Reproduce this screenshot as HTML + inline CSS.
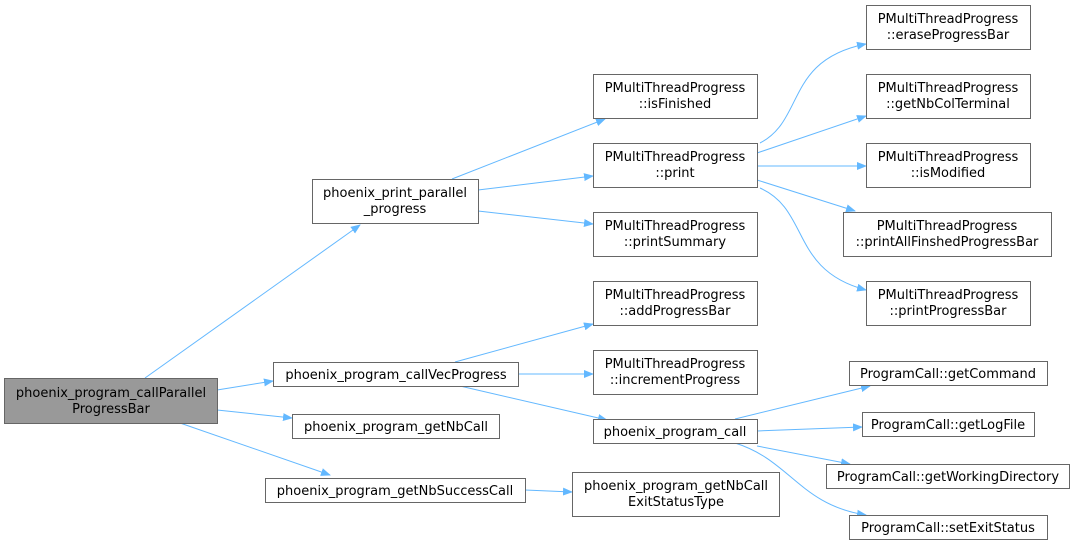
<!DOCTYPE html>
<html><head><meta charset="utf-8"><style>
html,body{margin:0;padding:0;background:#fff;}
svg{display:block}
text{font-family:"DejaVu Sans","Liberation Sans",sans-serif;font-size:13px;fill:#000;}
.n{fill:#fff;stroke:#666;stroke-width:1}
.e{fill:none;stroke:#63b8ff;stroke-width:1}
</style></head><body>
<svg width="1076" height="548" viewBox="0 0 1076 548" xmlns="http://www.w3.org/2000/svg">
<defs><marker id="a" markerWidth="10" markerHeight="8" refX="9" refY="4" orient="auto" markerUnits="userSpaceOnUse"><path d="M0,0 L10,4 L0,8 z" fill="#63b8ff"/></marker></defs>
<g class="edges">
<path class="e" marker-end="url(#a)" d="M145,378 L360,225"/>
<path class="e" marker-end="url(#a)" d="M217,390 L273,381"/>
<path class="e" marker-end="url(#a)" d="M217,410 L292,418"/>
<path class="e" marker-end="url(#a)" d="M180,423 L330,475"/>
<path class="e" marker-end="url(#a)" d="M452,179 L605,119"/>
<path class="e" marker-end="url(#a)" d="M478,190 L593,176"/>
<path class="e" marker-end="url(#a)" d="M478,211 L593,224"/>
<path class="e" marker-end="url(#a)" d="M455,362 L593,324"/>
<path class="e" marker-end="url(#a)" d="M518,374 L593,374"/>
<path class="e" marker-end="url(#a)" d="M460,386 L607,420"/>
<path class="e" marker-end="url(#a)" d="M525,490 L572,492"/>
<path class="e" marker-end="url(#a)" d="M760,143 C805,120 785,60 866,44"/>
<path class="e" marker-end="url(#a)" d="M757,153 L866,116"/>
<path class="e" marker-end="url(#a)" d="M757,166 L866,166"/>
<path class="e" marker-end="url(#a)" d="M757,180 L855,211"/>
<path class="e" marker-end="url(#a)" d="M760,188 C810,210 790,270 866,290"/>
<path class="e" marker-end="url(#a)" d="M735,419 L870,386"/>
<path class="e" marker-end="url(#a)" d="M757,431 L862,427"/>
<path class="e" marker-end="url(#a)" d="M757,446 L850,464"/>
<path class="e" marker-end="url(#a)" d="M735,443 C790,460 800,505 866,515"/>
</g>
<rect x="4.5" y="378.5" width="213" height="45" fill="#999" stroke="#666"/>
<text x="111" y="397" text-anchor="middle">phoenix_program_callParallel</text>
<text x="111" y="413" text-anchor="middle">ProgressBar</text>

<rect class="n" x="312.5" y="179.5" width="166" height="44"/>
<text x="395" y="197" text-anchor="middle">phoenix_print_parallel</text>
<text x="395" y="213" text-anchor="middle">_progress</text>

<rect class="n" x="273.5" y="362.5" width="245" height="24"/>
<text x="396" y="379" text-anchor="middle">phoenix_program_callVecProgress</text>
<rect class="n" x="292.5" y="414.5" width="207" height="24"/>
<text x="396" y="431" text-anchor="middle">phoenix_program_getNbCall</text>
<rect class="n" x="265.5" y="478.5" width="260" height="24"/>
<text x="395" y="495" text-anchor="middle">phoenix_program_getNbSuccessCall</text>

<g text-anchor="middle">
<rect class="n" x="593.5" y="74.5" width="164" height="44"/><text x="675" y="92">PMultiThreadProgress</text><text x="675" y="108">::isFinished</text>
<rect class="n" x="593.5" y="143.5" width="164" height="44"/><text x="675" y="161">PMultiThreadProgress</text><text x="675" y="177">::print</text>
<rect class="n" x="593.5" y="212.5" width="164" height="44"/><text x="675" y="230">PMultiThreadProgress</text><text x="675" y="246">::printSummary</text>
<rect class="n" x="593.5" y="281.5" width="164" height="44"/><text x="675" y="299">PMultiThreadProgress</text><text x="675" y="315">::addProgressBar</text>
<rect class="n" x="593.5" y="350.5" width="164" height="44"/><text x="675" y="368">PMultiThreadProgress</text><text x="675" y="384">::incrementProgress</text>
<rect class="n" x="593.5" y="419.5" width="164" height="24"/><text x="675" y="436">phoenix_program_call</text>
<rect class="n" x="572.5" y="472.5" width="207" height="44"/><text x="676" y="490">phoenix_program_getNbCall</text><text x="676" y="506">ExitStatusType</text>

<rect class="n" x="866.5" y="5.5" width="164" height="44"/><text x="948" y="23">PMultiThreadProgress</text><text x="948" y="39">::eraseProgressBar</text>
<rect class="n" x="866.5" y="74.5" width="164" height="44"/><text x="948" y="92">PMultiThreadProgress</text><text x="948" y="108">::getNbColTerminal</text>
<rect class="n" x="866.5" y="143.5" width="164" height="44"/><text x="948" y="161">PMultiThreadProgress</text><text x="948" y="177">::isModified</text>
<rect class="n" x="843.5" y="212.5" width="208" height="44"/><text x="947" y="230">PMultiThreadProgress</text><text x="947" y="246">::printAllFinshedProgressBar</text>
<rect class="n" x="866.5" y="281.5" width="164" height="44"/><text x="948" y="299">PMultiThreadProgress</text><text x="948" y="315">::printProgressBar</text>
<rect class="n" x="849.5" y="361.5" width="198" height="24"/><text x="948" y="378">ProgramCall::getCommand</text>
<rect class="n" x="862.5" y="412.5" width="172" height="24"/><text x="948" y="429">ProgramCall::getLogFile</text>
<rect class="n" x="826.5" y="464.5" width="243" height="24"/><text x="948" y="481">ProgramCall::getWorkingDirectory</text>
<rect class="n" x="849.5" y="515.5" width="198" height="24"/><text x="948" y="532">ProgramCall::setExitStatus</text>
</g>
</svg>
</body></html>
